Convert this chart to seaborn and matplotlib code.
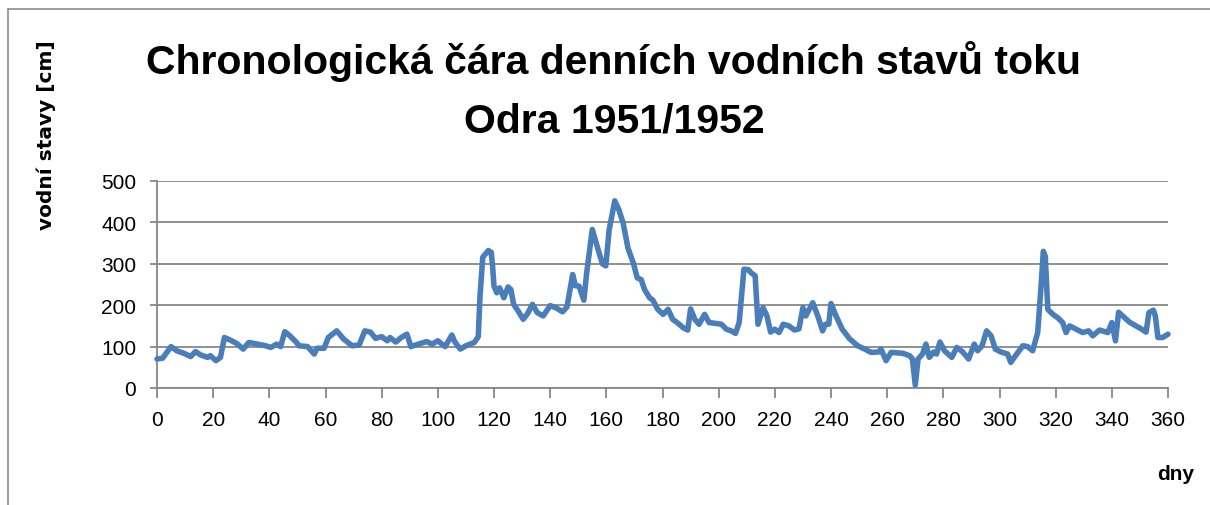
import matplotlib
matplotlib.use("Agg")
import matplotlib.pyplot as plt
import seaborn as sns
import pandas as pd
from matplotlib.lines import Line2D

days = [0, 2, 5, 7, 9.5, 12, 13.7, 15.5, 18, 19, 21, 22.6, 24, 26, 28.3, 30.7, 32.7, 35.7, 38.7, 40.5,
        42.6, 44, 45.5, 47, 49.4, 50.6, 53.6, 56, 57, 59.5, 61, 64, 66.5, 69.5, 72, 74, 76, 77.8, 80, 82,
        83, 85, 87, 89, 90.4, 93, 96, 98, 100, 102.6, 105, 106, 108, 110, 113, 114.4, 115, 116, 118, 119,
        119.5, 120, 121, 122, 123.5, 125, 126, 127, 128.6, 130.4, 131.8, 133.7, 135.4, 137.5, 140, 142,
        144.4, 146, 148, 149, 150.3, 152, 153, 155, 156.7, 158.6, 159.8, 161, 163, 164.5, 166, 167.7,
        169.7, 171, 172.4, 173.6, 175.4, 176.6, 178.3, 180.2, 182, 183.6, 185.6, 187.3, 189, 190, 191.5,
        193, 195, 196.6, 199, 201, 202.7, 204.5, 206, 207.3, 209, 210.5, 211.6, 213, 214, 215.8, 217.2,
        218.5, 220, 221.5, 223, 225, 227, 228.6, 230, 231, 233.5, 235.3, 237, 238, 239.2, 240, 241.8, 244,
        246.6, 249.5, 252, 254.3, 257, 257.8, 259.6, 261.4, 265.5, 268, 269, 270, 271, 272.6, 273.8, 275,
        276.6, 277.6, 278.8, 280.4, 283, 284.8, 286.9, 289, 291, 292.2, 293.8, 295.4, 297, 298.5, 300.5,
        302.9, 304, 305.7, 308.3, 310, 311.8, 313.6, 314.8, 315.6, 316.3, 317.2, 319, 320.7, 322.5, 323.7,
        325, 327.3, 329.6, 331.8, 333.2, 335.6, 338.6, 340, 341.3, 342.4, 344.5, 346.3, 348.6, 350.4,
        352.2, 353.2, 354.8, 355.5, 356.4, 358.1, 360]
levels = [70, 72, 100, 90, 84, 76, 88, 80, 74, 78, 66, 74, 122, 116, 108, 94, 110, 106, 102, 98,
          106, 100, 136, 128, 112, 102, 100, 82, 96, 96, 122, 138, 118, 102, 104, 138, 135, 120, 124, 114,
          122, 111, 122, 130, 100, 106, 112, 106, 114, 100, 128, 112, 94, 102, 110, 124, 220, 316, 332, 328,
          294, 246, 230, 242, 218, 244, 238, 202, 186, 166, 178, 202, 182, 174, 199, 194,
          184, 196, 274, 247, 246, 212, 278, 383, 343, 300, 295, 382, 452, 430, 398, 338,
          300, 266, 262, 238, 218, 212, 190, 178, 190, 166, 156, 146, 140, 191, 166,
          154, 178, 158, 156, 154, 142, 138, 132, 158, 287, 286, 278, 271, 154, 194, 174,
          135, 142, 134, 154, 150, 140, 143, 194, 174, 206, 174, 138, 154, 154, 204, 174, 142,
          119, 102, 94, 86, 87, 94, 66, 86, 84, 78, 70, 7, 70, 82, 106, 74,
          87, 82, 111, 90, 74, 98, 87, 70, 106, 90, 102, 138, 126, 94, 87,
          82, 62, 78, 102, 100, 90, 134, 246, 330, 318, 190, 178, 170, 158, 134,
          150, 142, 134, 138, 126, 140, 134, 158, 114, 183, 170, 159, 150, 143,
          135, 182, 188, 174, 122, 122, 130]

title_lines = ["Chronologická čára denních vodních stavů toku", "Odra 1951/1952"]
ylabel = "vodní stavy [cm]"
xlabel = "dny"
xticks = list(range(0, 361, 20))
yticks = list(range(0, 501, 100))

df = pd.DataFrame({"day": days, "level": levels})

sns.set_theme(style="white")
plt.rcParams['font.family'] = ['Liberation Sans', 'DejaVu Sans']
plt.rcParams['text.color'] = 'black'

W, H = 1210, 506
fig = plt.figure(figsize=(W / 100, H / 100), dpi=100)
ax = fig.add_axes([157 / W, 1 - 389 / H, (1168 - 157) / W, (389 - 182) / H])

sns.lineplot(data=df, x="day", y="level", ax=ax, color="#4A7EBB", linewidth=4.0,
             solid_joinstyle="round", solid_capstyle="round", clip_on=False, zorder=3)

ax.set_xlim(0, 360)
ax.set_ylim(0, 500)
ax.set_xticks(xticks)
ax.set_yticks(yticks)
ax.set_xticklabels([str(t) for t in xticks], fontsize=15, color="black")
ax.set_yticklabels([str(t) for t in yticks], fontsize=15, color="black")
ax.set_xlabel("")
ax.set_ylabel("")

gray = "#878787"
ax.grid(axis="y", color=gray, linewidth=1.3)
ax.grid(axis="x", visible=False)
for s in ["top", "right"]:
    ax.spines[s].set_visible(False)
for s in ["left", "bottom"]:
    ax.spines[s].set_color(gray)
    ax.spines[s].set_linewidth(1.3)
ax.tick_params(axis="x", direction="out", length=7, width=1.3, color=gray, pad=9, bottom=True)
ax.tick_params(axis="y", direction="out", length=5, width=1.3, color=gray, pad=10, left=True)

fig.text(614 / W, 1 - 62 / H, title_lines[0], ha="center", va="center",
         fontsize=29.5, fontweight="bold", color="black")
fig.text(614 / W, 1 - 122 / H, title_lines[1], ha="center", va="center",
         fontsize=29.5, fontweight="bold", color="black")
fig.text(46 / W, 1 - 135 / H, ylabel, ha="center", va="center", rotation=90,
         fontsize=14.5, fontweight="bold", family=['DejaVu Sans'], color="black")
fig.text(1176 / W, 1 - 475 / H, xlabel, ha="center", va="center",
         fontsize=15, fontweight="bold", color="black")

# chart border (cropped frame)
fig.add_artist(Line2D([8 / W, 1.0], [1 - 10 / H, 1 - 10 / H], transform=fig.transFigure,
                      color="#8c8c8c", linewidth=1.2))
fig.add_artist(Line2D([8 / W, 8 / W], [1 - 10 / H, 0.0], transform=fig.transFigure,
                      color="#8c8c8c", linewidth=1.2))

fig.savefig("out.png", dpi=100, facecolor="white")
